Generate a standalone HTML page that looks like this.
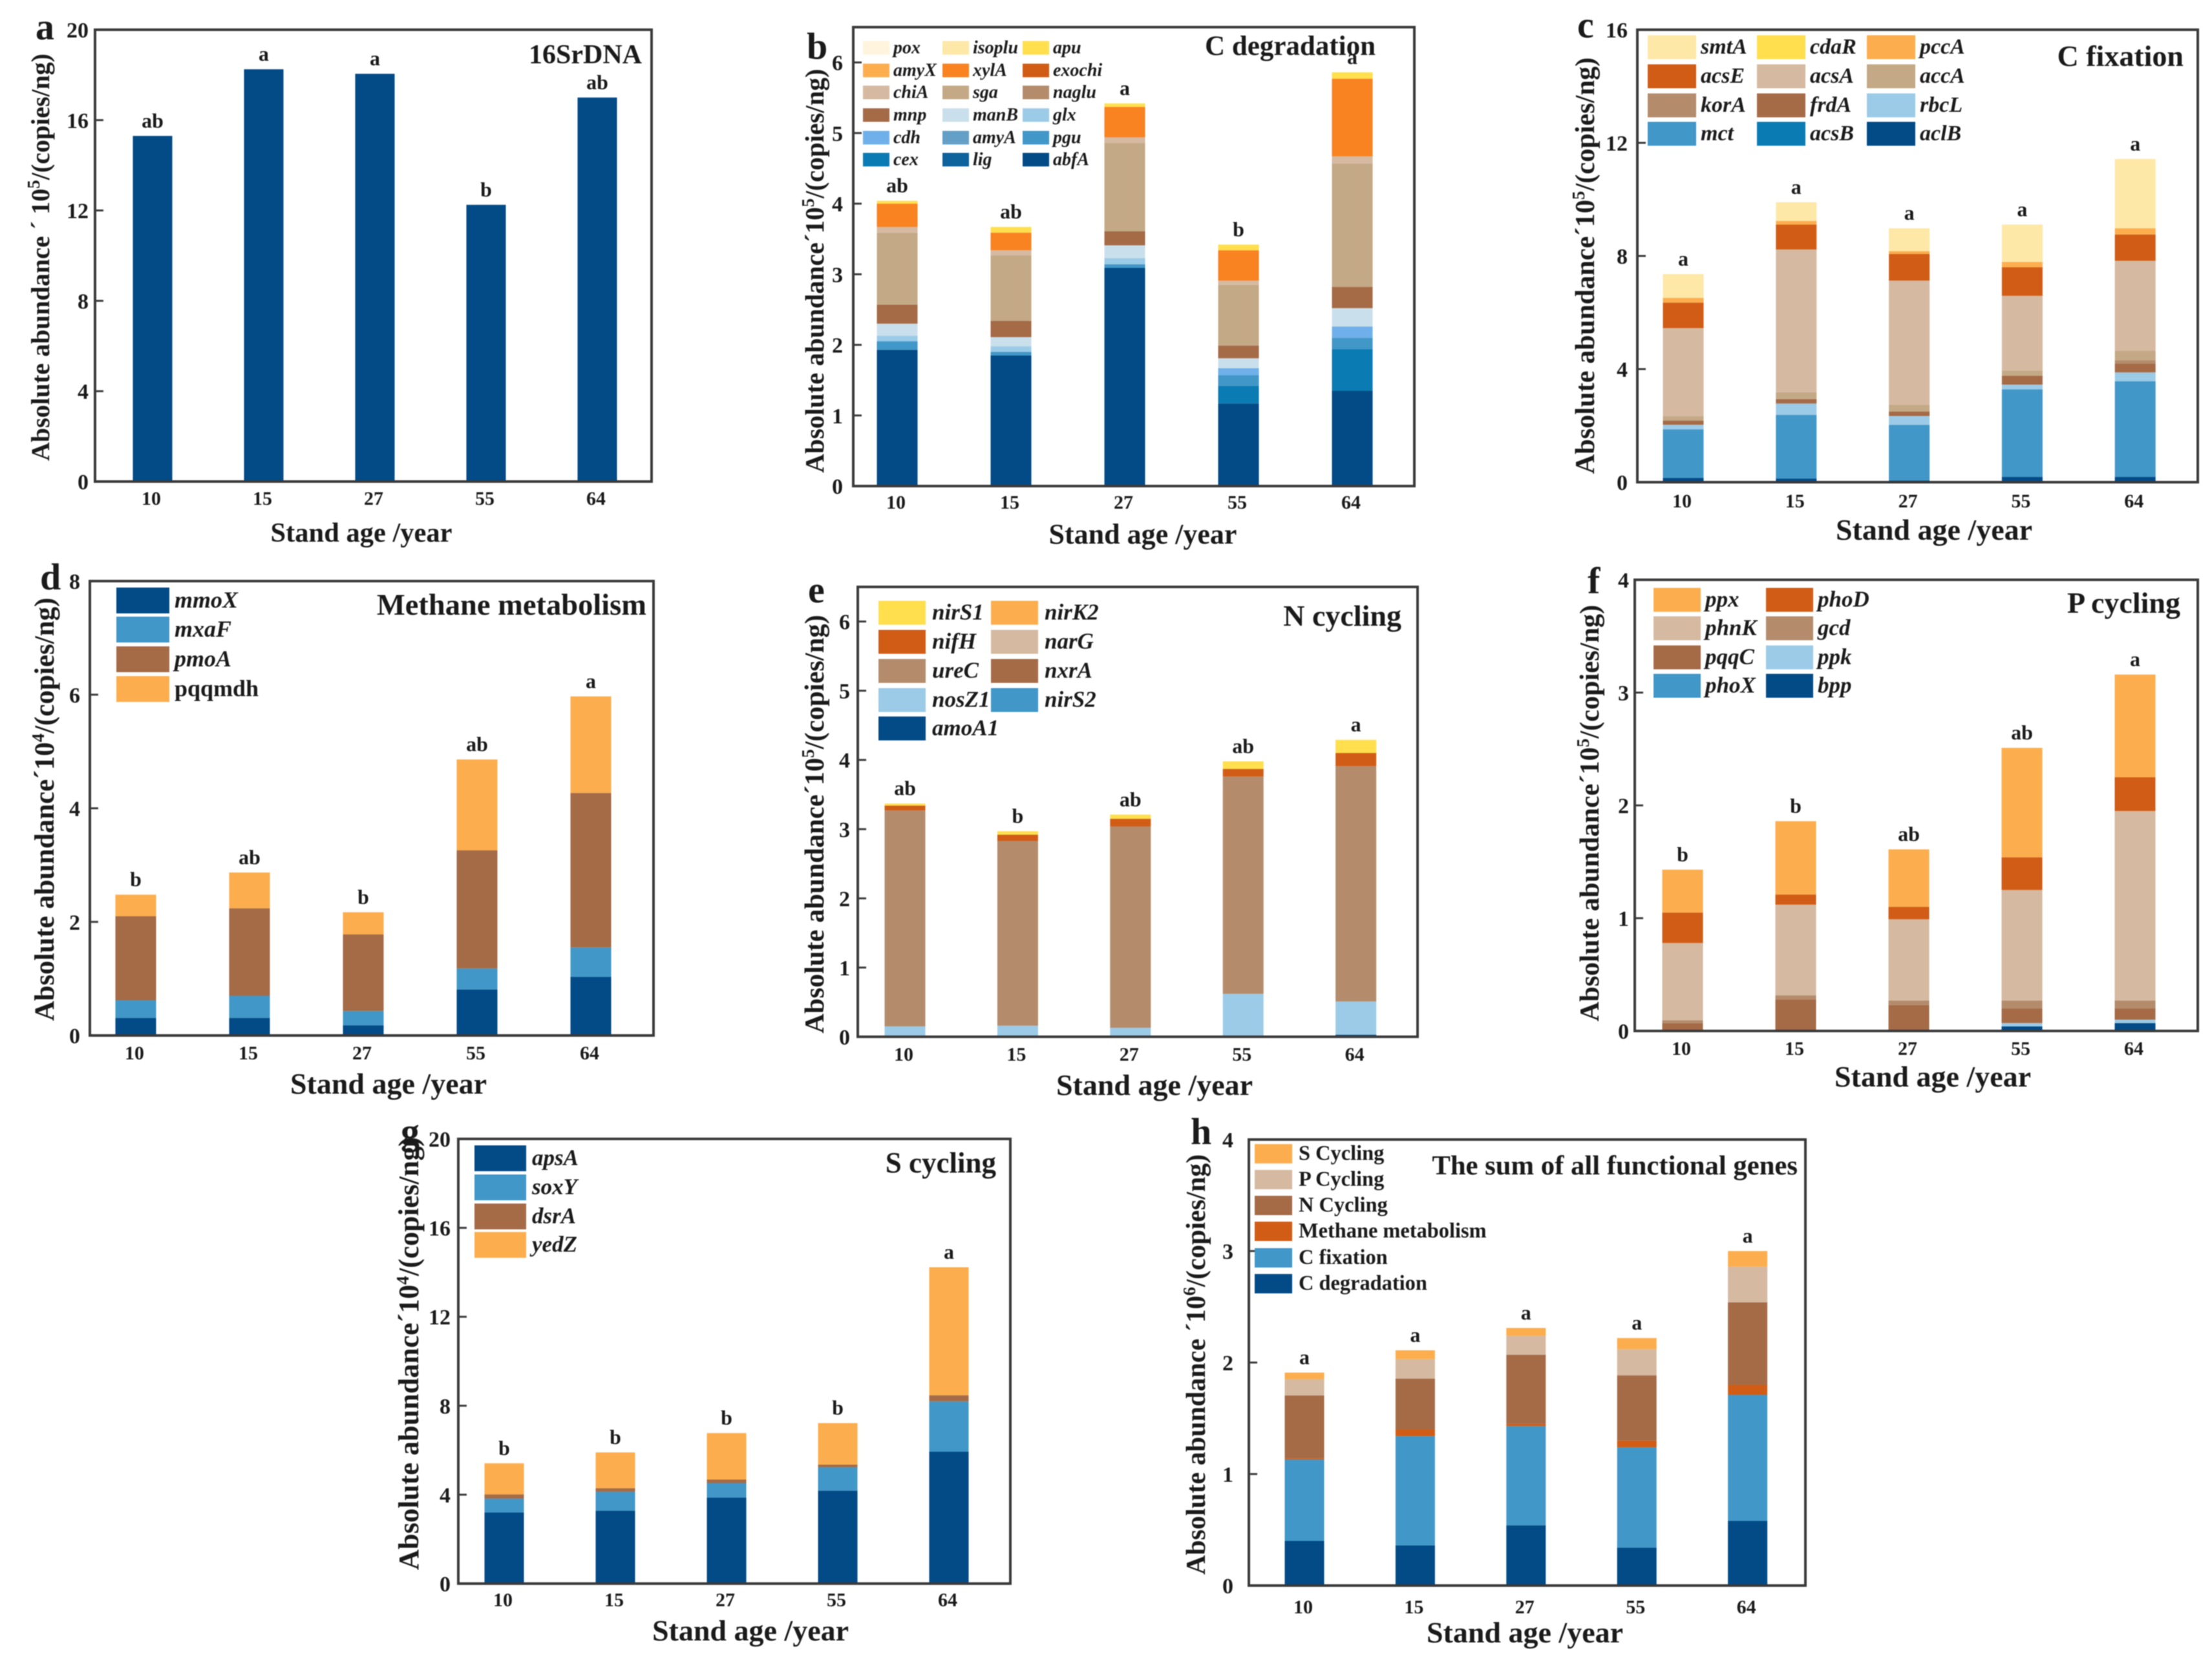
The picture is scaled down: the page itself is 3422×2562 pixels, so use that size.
<!DOCTYPE html>
<html lang="en">
<head>
<meta charset="utf-8">
<title>Functional gene absolute abundance by stand age</title>
<style>
html,body{margin:0;padding:0;background:#fff;width:3422px;height:2562px;overflow:hidden}
#figure{display:block;filter:blur(0.9px)}
text{font-family:"Liberation Serif",serif;font-weight:bold;fill:#1a1a1a}
</style>
</head>
<body>
<svg id="figure" xmlns="http://www.w3.org/2000/svg" width="3422" height="2562" viewBox="0 0 3422 2562"></svg>
<script>
const categories = ['10','15','27','55','64'];

/* panel a */
const aTicks = [0,4,8,12,16,20];
const aLetters = ['ab','a','a','b','ab'];
const a_16SrDNA = [15.3,18.25,18.05,12.25,17.0];

/* panel b */
const bTicks = [0,1,2,3,4,5,6];
const bLetters = ['ab','ab','a','b','a'];
const b_abfA = [1.93,1.85,3.09,1.17,1.35];
const b_lig = [0,0,0,0,0];
const b_cex = [0,0,0,0.25,0.59];
const b_pgu = [0.12,0.05,0.05,0.15,0.16];
const b_amyA = [0,0,0,0,0];
const b_cdh = [0,0,0,0.10,0.16];
const b_glx = [0.08,0.08,0.09,0,0];
const b_manB = [0.17,0.13,0.18,0.14,0.26];
const b_mnp = [0.27,0.23,0.20,0.18,0.30];
const b_naglu = [0,0,0,0,0];
const b_sga = [1.02,0.93,1.25,0.86,1.75];
const b_chiA = [0.08,0.07,0.08,0.06,0.10];
const b_exochi = [0,0,0,0,0];
const b_xylA = [0.33,0.25,0.43,0.43,1.10];
const b_amyX = [0,0,0,0,0];
const b_apu = [0.04,0.08,0.05,0.08,0.09];
const b_isoplu = [0,0,0,0,0];
const b_pox = [0,0,0,0,0];

/* panel c */
const cTicks = [0,4,8,12,16];
const cLetters = ['a','a','a','a','a'];
const c_aclB = [0.15,0.125,0.06,0.19,0.19];
const c_acsB = [0,0,0,0,0];
const c_mct = [1.72,2.255,1.97,3.09,3.38];
const c_rbcL = [0.16,0.40,0.31,0.17,0.31];
const c_frdA = [0.15,0.16,0.16,0.31,0.32];
const c_korA = [0,0,0,0,0.11];
const c_accA = [0.16,0.24,0.24,0.19,0.33];
const c_acsA = [3.11,5.05,4.39,2.64,3.19];
const c_acsE = [0.90,0.88,0.94,1.01,0.93];
const c_cdaR = [0,0,0,0,0];
const c_pccA = [0.17,0.13,0.10,0.19,0.22];
const c_smtA = [0.84,0.66,0.81,1.32,2.45];

/* panel d */
const dTicks = [0,2,4,6,8];
const dLetters = ['b','ab','b','ab','a'];
const d_mmoX = [0.31,0.31,0.18,0.81,1.03];
const d_mxaF = [0.31,0.39,0.25,0.37,0.52];
const d_pmoA = [1.48,1.54,1.35,2.08,2.72];
const d_pqqmdh = [0.38,0.63,0.39,1.60,1.70];

/* panel e */
const eTicks = [0,1,2,3,4,5,6];
const eLetters = ['ab','b','ab','ab','a'];
const e_amoA1 = [0,0,0,0,0.03];
const e_nirS2 = [0,0,0,0,0];
const e_nosZ1 = [0.15,0.16,0.13,0.62,0.48];
const e_nxrA = [0,0,0,0,0];
const e_ureC = [3.12,2.67,2.91,3.14,3.40];
const e_narG = [0,0,0,0,0];
const e_nifH = [0.07,0.09,0.11,0.11,0.19];
const e_nirK2 = [0,0,0,0,0];
const e_nirS1 = [0.03,0.05,0.06,0.11,0.19];

/* panel f */
const fTicks = [0,1,2,3,4];
const fLetters = ['b','b','ab','ab','a'];
const f_bpp = [0,0,0,0.04,0.07];
const f_phoX = [0,0,0,0,0];
const f_ppk = [0,0,0,0.03,0.03];
const f_pqqC = [0.07,0.28,0.23,0.13,0.10];
const f_gcd = [0.025,0.035,0.04,0.07,0.07];
const f_phnK = [0.685,0.805,0.72,0.98,1.68];
const f_phoD = [0.27,0.09,0.11,0.29,0.30];
const f_ppx = [0.38,0.65,0.51,0.97,0.91];

/* panel g */
const gTicks = [0,4,8,12,16,20];
const gLetters = ['b','b','b','b','a'];
const g_apsA = [3.2,3.28,3.87,4.18,5.93];
const g_soxY = [0.62,0.85,0.65,1.05,2.26];
const g_dsrA = [0.19,0.16,0.16,0.12,0.28];
const g_yedZ = [1.40,1.61,2.09,1.87,5.76];

/* panel h */
const hTicks = [0,1,2,3,4];
const hLetters = ['a','a','a','a','a'];
const h_CDegradation = [0.40,0.36,0.54,0.34,0.58];
const h_CFixation = [0.73,0.98,0.89,0.90,1.13];
const h_Methane = [0.01,0.06,0.02,0.06,0.09];
const h_NCycling = [0.565,0.455,0.62,0.585,0.74];
const h_PCycling = [0.145,0.175,0.17,0.235,0.32];
const h_SCycling = [0.06,0.08,0.07,0.10,0.14];

const C = {navy:'#024b87',lig:'#0f639c',teal:'#0b7cb3',mid:'#4197c8',amy:'#639fc6',cdh:'#6fb0ea',sky:'#9ccbe8',pale:'#c9e0ec',
  brown:'#a56b47',tan3:'#b48c6c',tan2:'#c4a986',tan1:'#d5b9a0',rust:'#d15c15',orange:'#f98221',amber:'#fcae4e',yellow:'#ffdf4d',cream:'#fde8a8',ivory:'#fff4dd'};

const panels = [
 {id:'a',ymax:20,ticks:aTicks,letters:aLetters,left:147,right:1008,top:46,bottom:745,x0:236,step:172,bw:61,
  series:[['16SrDNA',a_16SrDNA,C.navy]],
  title:'16SrDNA',tr:993,tb:98,tf:42,lx:55,lb:61,yx:62,yy:398,yf:40,sep:' \u00B4 ',exp:'5',ytr:137,xtb:781,xlx:559,xlb:838,xlf:42.5},
 {id:'b',ymax:6.5,ticks:bTicks,letters:bLetters,left:1320,right:2188,top:42,bottom:752,x0:1388,step:176,bw:63,
  series:[['abfA',b_abfA,C.navy],['lig',b_lig,C.lig],['cex',b_cex,C.teal],['pgu',b_pgu,C.mid],['amyA',b_amyA,C.amy],['cdh',b_cdh,C.cdh],['glx',b_glx,C.sky],['manB',b_manB,C.pale],['mnp',b_mnp,C.brown],['naglu',b_naglu,C.tan3],['sga',b_sga,C.tan2],['chiA',b_chiA,C.tan1],['exochi',b_exochi,C.rust],['xylA',b_xylA,C.orange],['amyX',b_amyX,C.amber],['apu',b_apu,C.yellow],['isoplu',b_isoplu,C.cream],['pox',b_pox,C.ivory]],
  legend:{names:['pox','isoplu','apu','amyX','xylA','exochi','chiA','sga','naglu','mnp','manB','glx','cdh','amyA','pgu','cex','lig','abfA'],cols:[1335,1458,1582],rows:[74,109,143,178,213,247],w:41,h:21,off:47,fs:28},
  title:'C degradation',tr:2128,tb:85,tf:43,lx:1248,lb:91,yx:1260,yy:419,yf:41,sep:'\u00B4',exp:'5',ytr:1304,xtb:787,xlx:1768,xlb:841,xlf:44},
 {id:'c',ymax:16,ticks:cTicks,letters:cLetters,left:2533,right:3400,top:46,bottom:746,x0:2604,step:174.8,bw:63,
  series:[['aclB',c_aclB,C.navy],['acsB',c_acsB,C.teal],['mct',c_mct,C.mid],['rbcL',c_rbcL,C.sky],['frdA',c_frdA,C.brown],['korA',c_korA,C.tan3],['accA',c_accA,C.tan2],['acsA',c_acsA,C.tan1],['acsE',c_acsE,C.rust],['cdaR',c_cdaR,C.yellow],['pccA',c_pccA,C.amber],['smtA',c_smtA,C.cream]],
  legend:{names:['smtA','cdaR','pccA','acsE','acsA','accA','korA','frdA','rbcL','mct','acsB','aclB'],cols:[2549,2718,2888],rows:[73,118,163,207],w:75,h:37,off:82,fs:34},
  title:'C fixation',tr:3378,tb:102,tf:46,lx:2440,lb:58,yx:2452,yy:411,yf:42.3,sep:'\u00B4',exp:'5',ytr:2518,xtb:785,xlx:2992,xlb:835,xlf:46},
 {id:'d',ymax:8,ticks:dTicks,letters:dLetters,left:139,right:1011,top:899,bottom:1602,x0:210,step:176,bw:63,
  series:[['mmoX',d_mmoX,C.navy],['mxaF',d_mxaF,C.mid],['pmoA',d_pmoA,C.brown],['pqqmdh',d_pqqmdh,C.amber]],
  legend:{names:['mmoX','mxaF','pmoA','pqqmdh'],cols:[180],rows:[929,974,1020,1066],w:82,h:40,off:90,fs:36,plain:['pqqmdh']},
  title:'Methane metabolism',tr:1000,tb:951,tf:46.5,lx:62,lb:912,yx:69,yy:1252,yf:43,sep:'\u00B4',exp:'4',ytr:124,xtb:1639,xlx:601,xlb:1692,xlf:46},
 {id:'e',ymax:6.5,ticks:eTicks,letters:eLetters,left:1327,right:2193,top:908,bottom:1604,x0:1400,step:174.4,bw:63,
  series:[['amoA1',e_amoA1,C.navy],['nirS2',e_nirS2,C.mid],['nosZ1',e_nosZ1,C.sky],['nxrA',e_nxrA,C.brown],['ureC',e_ureC,C.tan3],['narG',e_narG,C.tan1],['nifH',e_nifH,C.rust],['nirK2',e_nirK2,C.amber],['nirS1',e_nirS1,C.yellow]],
  legend:{names:['nirS1','nirK2','nifH','narG','ureC','nxrA','nosZ1','nirS2','amoA1'],cols:[1359,1533],rows:[948,993,1038,1083,1127],w:73,h:37,off:83,fs:35},
  title:'N cycling',tr:2168,tb:968,tf:46,lx:1250,lb:932,yx:1260,yy:1275,yf:42.5,sep:'\u00B4',exp:'5',ytr:1315,xtb:1641,xlx:1786,xlb:1694,xlf:46},
 {id:'f',ymax:4,ticks:fTicks,letters:fLetters,left:2529,right:3400,top:897,bottom:1595,x0:2603,step:175,bw:63,
  series:[['bpp',f_bpp,C.navy],['phoX',f_phoX,C.mid],['ppk',f_ppk,C.sky],['pqqC',f_pqqC,C.brown],['gcd',f_gcd,C.tan3],['phnK',f_phnK,C.tan1],['phoD',f_phoD,C.rust],['ppx',f_ppx,C.amber]],
  legend:{names:['ppx','phoD','phnK','gcd','pqqC','ppk','phoX','bpp'],cols:[2558,2732],rows:[928,972,1017,1061],w:73,h:37,off:80,fs:35},
  title:'P cycling',tr:3373,tb:948,tf:46,lx:2456,lb:918,yx:2459,yy:1258,yf:42.3,sep:'\u00B4',exp:'5',ytr:2520,xtb:1632,xlx:2990,xlb:1681,xlf:46},
 {id:'g',ymax:20,ticks:gTicks,letters:gLetters,left:709,right:1563,top:1762,bottom:2450,x0:780,step:172,bw:61,
  series:[['apsA',g_apsA,C.navy],['soxY',g_soxY,C.mid],['dsrA',g_dsrA,C.brown],['yedZ',g_yedZ,C.amber]],
  legend:{names:['apsA','soxY','dsrA','yedZ'],cols:[734],rows:[1792,1837,1882,1926],w:80,h:40,off:89,fs:35},
  title:'S cycling',tr:1541,tb:1814,tf:45,lx:620,lb:1770,yx:633,yy:2094,yf:44,sep:'\u00B4',exp:'4',ytr:697,xtb:2485,xlx:1161,xlb:2538,xlf:46},
 {id:'h',ymax:4,ticks:hTicks,letters:hLetters,left:1932,right:2793,top:1763,bottom:2453,x0:2018,step:171.4,bw:61,
  series:[['C degradation',h_CDegradation,C.navy],['C fixation',h_CFixation,C.mid],['Methane metabolism',h_Methane,C.rust],['N Cycling',h_NCycling,C.brown],['P Cycling',h_PCycling,C.tan1],['S Cycling',h_SCycling,C.amber]],
  legend:{names:['S Cycling','P Cycling','N Cycling','Methane metabolism','C fixation','C degradation'],cols:[1941],rows:[1785,1825,1865,1905,1946,1986],w:58,h:30,off:68,fs:32.4,plain:['S Cycling','P Cycling','N Cycling','Methane metabolism','C fixation','C degradation']},
  title:'The sum of all functional genes',tr:2781,tb:1817,tf:42.7,lx:1842,lb:1770,yx:1850,yy:2111,yf:42,sep:' \u00B4',exp:'6',ytr:1908,xtb:2496,xlx:2359,xlb:2541,xlf:46}
];

const NS = 'http://www.w3.org/2000/svg';
const root = document.getElementById('figure');
function make(parent, tag, attrs, content){
  const el = document.createElementNS(NS, tag);
  for (const k in attrs) el.setAttribute(k, attrs[k]);
  if (content !== undefined) el.textContent = content;
  parent.appendChild(el);
  return el;
}
function slug(s){ return s.toLowerCase().replace(/[^a-z0-9]+/g,'-'); }

panels.forEach(function(p){
  const yScale = function(v){ return p.bottom - (v / p.ymax) * (p.bottom - p.top); };
  const xScale = function(i){ return p.x0 + i * p.step; };

  const g = make(root, 'g', {});
  
  

  /* stacked bars */
  categories.forEach(function(cat, i){
    let base = 0;
    p.series.forEach(function(s){
      const v = s[1][i];
      const bar = make(g, 'rect', {x:xScale(i) - p.bw/2, y:yScale(base + v), width:p.bw, height:Math.max(0, yScale(base) - yScale(base + v)), fill:s[2]});
      
      
      base += v;
    });
    const sig = make(g, 'text', {x:xScale(i), y:yScale(base) - 13, 'text-anchor':'middle', 'font-size':32}, p.letters[i]);
    
    

    const xt = make(g, 'text', {x:xScale(i) - 2, y:p.xtb, 'text-anchor':'middle', 'font-size':30}, cat);
    
    
  });

  /* frame and ticks */
  const frame = make(g, 'rect', {x:p.left, y:p.top, width:p.right - p.left, height:p.bottom - p.top, fill:'none', stroke:'#3a3a3a', 'stroke-width':4});
  
  

  p.ticks.forEach(function(t){
    const tick = make(g, 'line', {x1:p.left, x2:p.left + 13, y1:yScale(t), y2:yScale(t), stroke:'#3a3a3a', 'stroke-width':3});
    
    
    const lbl = make(g, 'text', {x:p.ytr, y:yScale(t) + 12, 'text-anchor':'end', 'font-size':34}, String(t));
    
    
  });

  /* axis titles */
  const yt = make(g, 'text', {transform:'translate(' + p.yx + ',' + p.yy + ') rotate(-90)', x:0, y:14, 'text-anchor':'middle', 'font-size':p.yf});
  
  
  make(yt, 'tspan', {}, 'Absolute abundance' + p.sep + '10');
  make(yt, 'tspan', {dy:-15, 'font-size':27}, p.exp);
  make(yt, 'tspan', {dy:15}, '/(copies/ng)');

  const xl = make(g, 'text', {x:p.xlx, y:p.xlb, 'text-anchor':'middle', 'font-size':p.xlf}, 'Stand age /year');
  
  

  const title = make(g, 'text', {x:p.tr, y:p.tb, 'text-anchor':'end', 'font-size':p.tf}, p.title);
  
  

  const letter = make(g, 'text', {x:p.lx, y:p.lb, 'font-size':58}, p.id);
  
  

  /* legend */
  if (p.legend) {
    const L = p.legend;
    const lg = make(g, 'g', {});
    
    
    L.names.forEach(function(name, n){
      const col = n % L.cols.length;
      const row = Math.floor(n / L.cols.length);
      const s = p.series.find(function(e){ return e[0] === name; });
      const sw = make(lg, 'rect', {x:L.cols[col], y:L.rows[row] - L.h/2, width:L.w, height:L.h, fill:s[2]});
      
      
      const plain = L.plain && L.plain.indexOf(name) >= 0;
      const tx = make(lg, 'text', {x:L.cols[col] + L.off, y:L.rows[row] + L.fs * 0.3, 'font-size':L.fs, 'font-style':plain ? 'normal' : 'italic'}, name);
      
      
    });
  }
});
</script>
</body>
</html>
